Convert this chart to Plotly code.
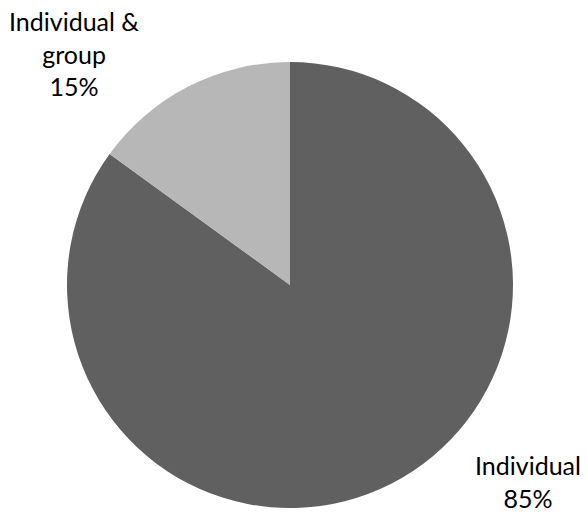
import plotly.graph_objects as go

labels = ["Individual", "Individual & group"]
values = [85, 15]
colors = ["#606060", "#b7b7b7"]

W, H = 587, 512
cx, cy, r = 290, 285, 223  # pixel geometry of the pie

fig = go.Figure(go.Pie(
    labels=labels,
    values=values,
    marker=dict(colors=colors, line=dict(width=0)),
    textinfo="none",
    hoverinfo="label+percent",
    sort=False,
    direction="clockwise",
    rotation=0,
    domain=dict(x=[(cx - r) / W, (cx + r) / W], y=[(H - cy - r) / H, (H - cy + r) / H]),
))

font = dict(family="Lato, Open Sans, sans-serif", size=25, color="#000000")
fig.add_annotation(text="Individual &<br>group<br>" + f"{values[1]}%",
                   x=74 / W, y=1 - 53 / H, xref="paper", yref="paper",
                   xanchor="center", yanchor="middle",
                   showarrow=False, font=font, align="center")
fig.add_annotation(text=f"{labels[0]}<br>{values[0]}%",
                   x=528 / W, y=1 - 481 / H, xref="paper", yref="paper",
                   xanchor="center", yanchor="middle",
                   showarrow=False, font=font, align="center")

fig.update_layout(
    width=W, height=H,
    margin=dict(l=0, r=0, t=0, b=0),
    showlegend=False,
    paper_bgcolor="white",
    plot_bgcolor="white",
)

fig.write_html("out.html", config={"displayModeBar": False},
               post_script="document.body.style.margin='0';")
